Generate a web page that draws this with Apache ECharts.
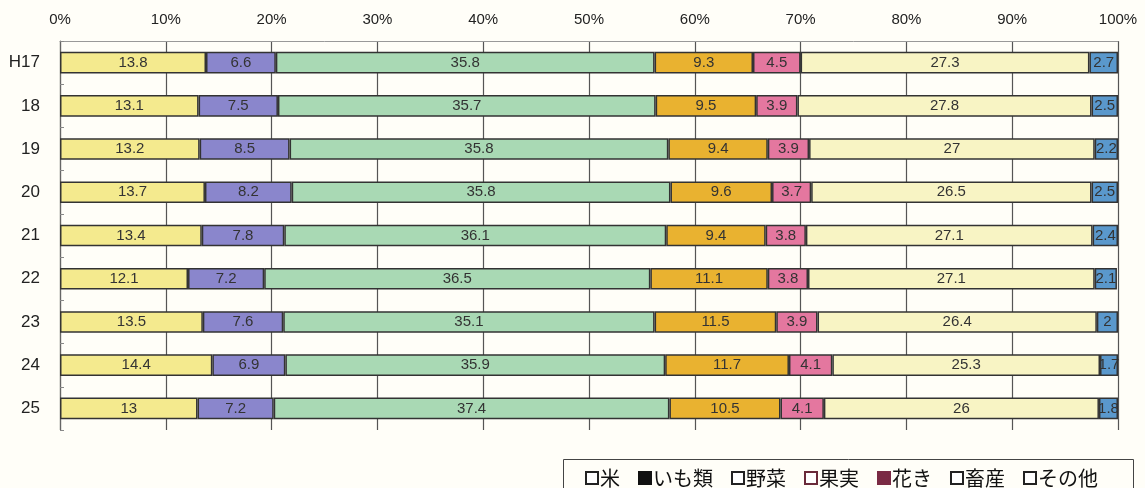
<!DOCTYPE html>
<html><head><meta charset="utf-8">
<script src="https://cdn.jsdelivr.net/npm/echarts@6/dist/echarts.min.js"></script>
<style>html,body{margin:0;padding:0;background:#fffef8;}#c{width:1145px;height:488px;}</style>
</head><body><div id="c"></div>
<script>
const categories = ['H17','18','19','20','21','22','23','24','25'];
const seriesNames = ['米','いも類','野菜','果実','花き','畜産','その他'];
const rice      = [13.8,13.1,13.2,13.7,13.4,12.1,13.5,14.4,13];
const potatoes  = [6.6,7.5,8.5,8.2,7.8,7.2,7.6,6.9,7.2];
const vegetables= [35.8,35.7,35.8,35.8,36.1,36.5,35.1,35.9,37.4];
const fruits    = [9.3,9.5,9.4,9.6,9.4,11.1,11.5,11.7,10.5];
const flowers   = [4.5,3.9,3.9,3.7,3.8,3.8,3.9,4.1,4.1];
const livestock = [27.3,27.8,27,26.5,27.1,27.1,26.4,25.3,26];
const others    = [2.7,2.5,2.2,2.5,2.4,2.1,2,1.7,1.8];
const xTicks = [0,10,20,30,40,50,60,70,80,90,100];

const values = [rice,potatoes,vegetables,fruits,flowers,livestock,others];
const colors = ['#f4ea8e','#8a86cc','#a9d9b4','#e9b230','#e4779f','#f8f4c4','#5a98cc'];
const legendIcon = [
  {color:'#ffffff',borderColor:'#222',borderWidth:2},
  {color:'#111',borderColor:'#111',borderWidth:2},
  {color:'#ffffff',borderColor:'#222',borderWidth:2},
  {color:'#ffffff',borderColor:'#6a2a3a',borderWidth:2},
  {color:'#7a2a44',borderColor:'#7a2a44',borderWidth:2},
  {color:'#ffffff',borderColor:'#222',borderWidth:2},
  {color:'#ffffff',borderColor:'#222',borderWidth:2}
];

const chart = echarts.init(document.getElementById('c'));
chart.setOption({
  backgroundColor:'#fffef8',
  animation:false,
  graphic:[{type:'rect',left:563,top:459,shape:{width:570,height:40},style:{fill:'#fffef8',stroke:'#444',lineWidth:1}}],
  legend:{
    left:580, top:463, itemWidth:12, itemHeight:12, itemGap:18,
    icon:'rect',
    textStyle:{fontSize:20,color:'#111',fontFamily:'Noto Sans CJK JP',padding:[0,0,0,-3]},
    data: seriesNames.map((n,i)=>({name:n,itemStyle:legendIcon[i]}))
  },
  grid:{left:60,right:27,top:41,bottom:58},
  xAxis:{
    type:'value', position:'top', min:0, max:100, interval:10,
    axisLabel:{formatter:'{value}%',fontSize:15,color:'#222',margin:14,fontFamily:'Liberation Sans'},
    axisLine:{show:true,lineStyle:{color:'#999',width:1}},
    axisTick:{show:false},
    splitLine:{show:true,lineStyle:{color:'#555',width:1.2}}
  },
  yAxis:{
    type:'category', data:categories, inverse:true,
    axisLabel:{fontSize:17,color:'#222',margin:20,fontFamily:'Liberation Sans'},
    axisLine:{show:true,lineStyle:{color:'#666',width:1.2}},
    axisTick:{show:true,inside:true,length:4,alignWithLabel:false,lineStyle:{color:'#888'}},
    splitLine:{show:false}
  },
  series: seriesNames.map((n,i)=>({
    name:n, type:'bar', stack:'total', barWidth:'50%',
    data: values[i],
    itemStyle:{color:colors[i],borderColor:'#333',borderWidth:1.5},
    label:{show:true,position:'inside',fontSize:15,color:'#333',fontFamily:'Liberation Sans'}
  }))
});
</script></body></html>
